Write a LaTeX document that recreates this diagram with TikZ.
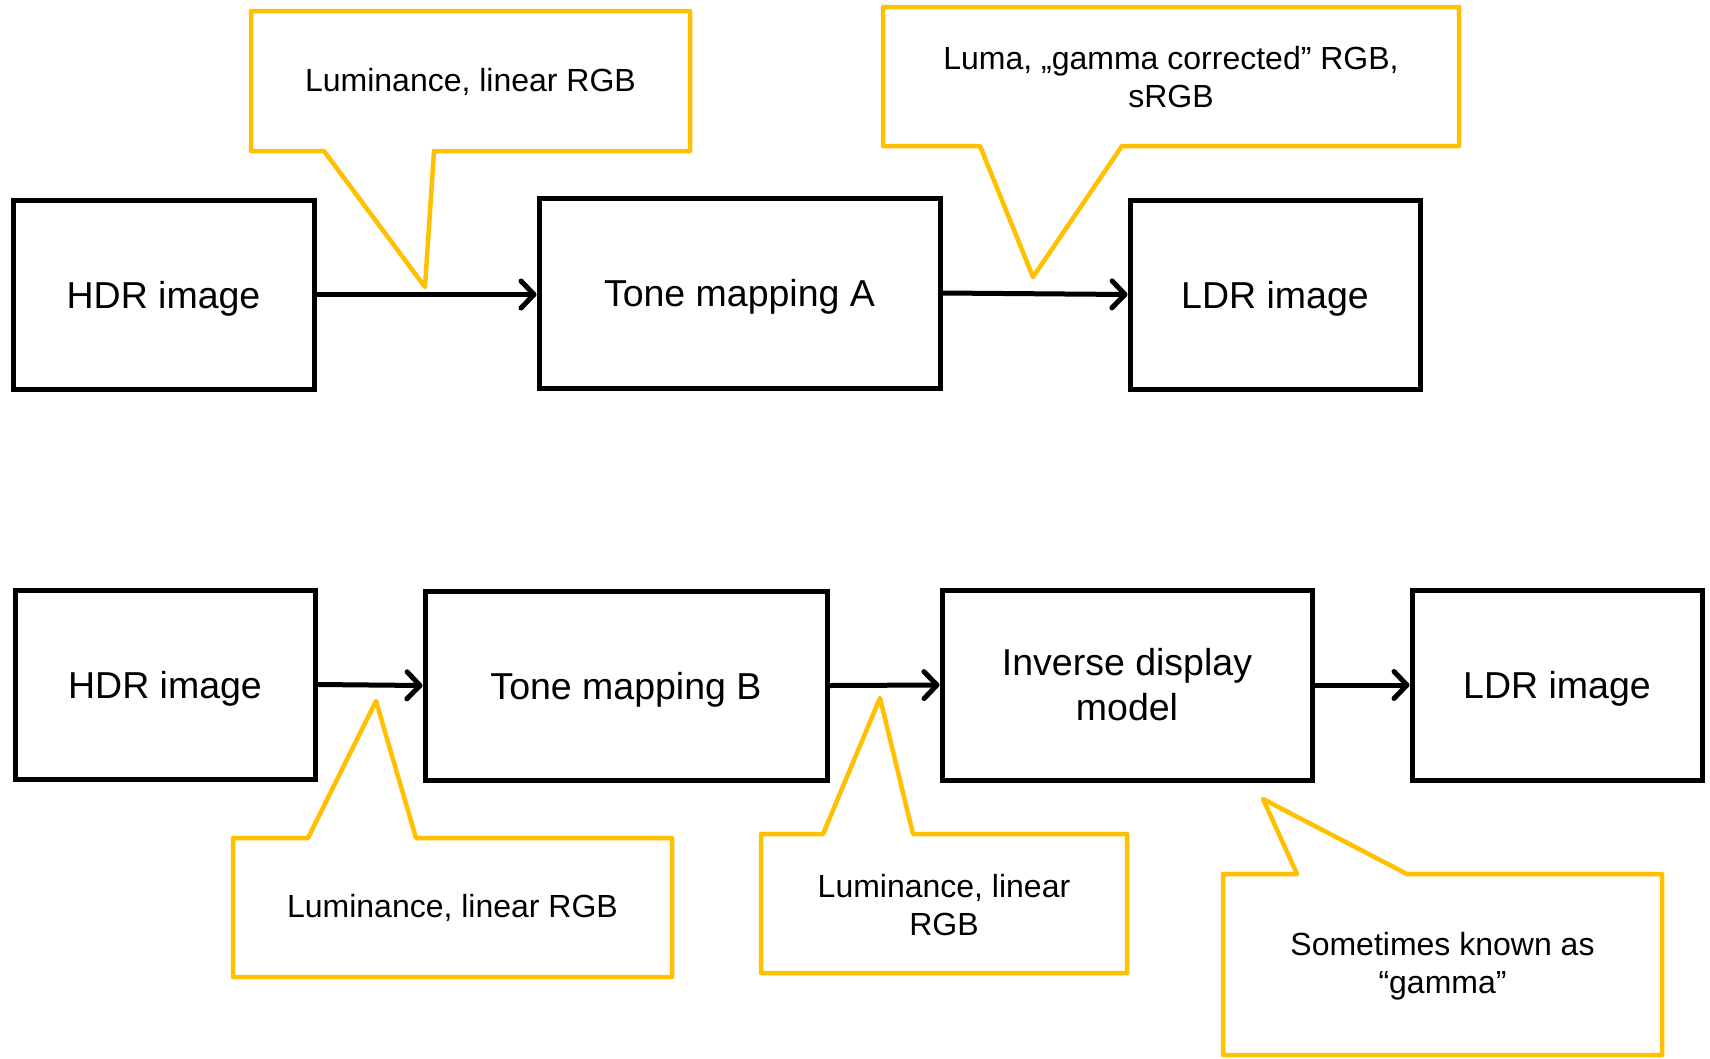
\documentclass[tikz,border=0pt]{standalone}
\usepackage{fontspec}
\setmainfont{Liberation Sans}
\usetikzlibrary{arrows.meta}
\definecolor{callgold}{HTML}{FFC000}
\tikzset{
  blockbox/.style={draw=black, line width=5pt, inner sep=0pt, align=center,
    font=\fontsize{37.5}{45}\selectfont},
  oneline/.style={text depth=0pt},
  calloutline/.style={draw=callgold, line width=4.5pt, line join=round, line cap=round},
  callouttext/.style={align=center, inner sep=0pt, font=\fontsize{32}{38}\selectfont},
  flow/.style={line width=5pt, -{Straight Barb[length=13pt,width=27pt,line width=5pt,round]}}
}
\begin{document}
\begin{tikzpicture}[x=1pt,y=-1pt]
\useasboundingbox (0,0) rectangle (1710,1058);
% top row
\node[blockbox, oneline, minimum width=301pt, minimum height=189pt] (hdrA) at (163.5,294.5) {HDR image};
\node[blockbox, oneline, minimum width=401pt, minimum height=190pt] (tmA) at (739.5,293) {Tone mapping A};
\node[blockbox, oneline, minimum width=290pt, minimum height=189pt] (ldrA) at (1275,294.5) {LDR image};
% bottom row
\node[blockbox, oneline, minimum width=300pt, minimum height=189pt] (hdrB) at (165,684.5) {HDR image};
\node[blockbox, oneline, minimum width=402pt, minimum height=189pt] (tmB) at (626,685.5) {Tone mapping B};
\node[blockbox, minimum width=370pt, minimum height=190pt] (inv) at (1127,685) {Inverse display\\model};
\node[blockbox, oneline, minimum width=290pt, minimum height=190pt] (ldrB) at (1557,685) {LDR image};
% arrows
\draw[flow] (hdrA.east) -- (tmA.west |- hdrA.east);
\draw[flow] (tmA.east) -- (ldrA.west);
\draw[flow] (hdrB.east) -- (tmB.west);
\draw[flow] (tmB.east) -- (inv.west);
\draw[flow] (inv.east) -- (ldrB.west);
% callouts
\draw[calloutline] (251,11) -- (690,11) -- (690,151) -- (434,151) -- (425,287) -- (324,151) -- (251,151) -- cycle;
\node[callouttext] (c1) at (470.5,82) {Luminance, linear RGB};
\draw[calloutline] (883,7) -- (1459,7) -- (1459,146) -- (1122,146) -- (1033,277) -- (980,146) -- (883,146) -- cycle;
\node[callouttext] (c2) at (1171,77) {Luma, „gamma corrected” RGB,\\sRGB};
\draw[calloutline] (233,838) -- (308,838) -- (376,701) -- (416,838) -- (672,838) -- (672,977) -- (233,977) -- cycle;
\node[callouttext] (c3) at (452.5,908) {Luminance, linear RGB};
\draw[calloutline] (761,834) -- (823,834) -- (880,698) -- (913,834) -- (1127,834) -- (1127,973) -- (761,973) -- cycle;
\node[callouttext] (c4) at (944,905) {Luminance, linear\\RGB};
\draw[calloutline] (1223,874) -- (1297,874) -- (1263,799) -- (1407,874) -- (1662,874) -- (1662,1055) -- (1223,1055) -- cycle;
\node[callouttext] (c5) at (1442.5,966) {Sometimes known as\\“gamma”};
\end{tikzpicture}
\end{document}
